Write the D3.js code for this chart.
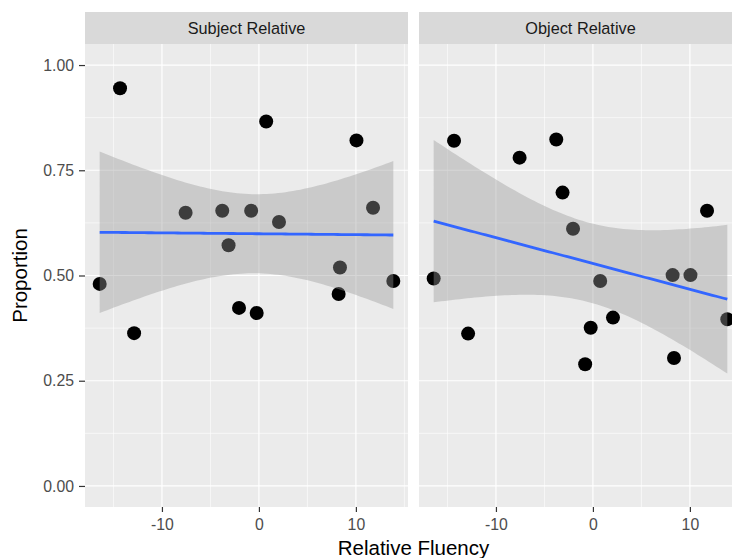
<!DOCTYPE html>
<html>
<head>
<meta charset="utf-8">
<script src="https://cdnjs.cloudflare.com/ajax/libs/d3/7.8.5/d3.min.js"></script>
<style>
  body { margin: 0; background: white; }
  svg text { font-family: "Liberation Sans", Arial, sans-serif; }
</style>
</head>
<body>
<div id="chart"></div>
<script>
// Data
const facets = ["Subject Relative", "Object Relative"];
const fluency = [-16.42, -14.32, -12.87, -7.56, -3.78, -3.13, -2.05, -0.8, -0.23, 0.75, 2.07, 8.22, 8.36, 10.06, 11.77, 13.86];
const subjectProp = [0.480, 0.945, 0.363, 0.649, 0.654, 0.572, 0.423, 0.654, 0.411, 0.866, 0.627, 0.456, 0.519, 0.821, 0.661, 0.487];
const objectProp  = [0.493, 0.820, 0.362, 0.780, 0.823, 0.697, 0.611, 0.289, 0.376, 0.487, 0.400, 0.501, 0.304, 0.501, 0.654, 0.396];
const xTicks = [-10, 0, 10];
const xMinor = [-15, -5, 5, 15];
const yTicks = [0, 0.25, 0.5, 0.75, 1];
const yMinor = [0.125, 0.375, 0.625, 0.875];

const config = {
  width       : 732,
  height      : 558,
  panelTop    : 44,
  panelBottom : 507,
  stripTop    : 12,
  panels      : [[85, 408], [419, 742]],
  panelBg     : "#EBEBEB",
  stripBg     : "#D9D9D9",
  ribbon      : "#999999",
  line        : "#3366FF",
  tickSize    : "15.8px",
  stripSize   : "16.3px",
  titleSize   : "20.5px",
  tCrit       : 2.1448,   // t(0.975, df = 14)
};

const series = [subjectProp, objectProp];

const svg = d3.select("#chart")
  .append("svg")
    .attr("width", config.width)
    .attr("height", config.height);

// shared scales (same limits in both facets, 5% expansion like ggplot)
const xExt = d3.extent(fluency);
const xPad = (xExt[1] - xExt[0]) * 0.05;
const xDomain = [xExt[0] - xPad, xExt[1] + xPad];
const y = d3.scaleLinear()
  .domain([-0.05, 1.05])
  .range([config.panelBottom, config.panelTop]);

// linear model with confidence band
function fitLm(xs, ys) {
  const n = xs.length;
  const mx = d3.mean(xs), my = d3.mean(ys);
  let sxx = 0, sxy = 0;
  xs.forEach((v, i) => { sxx += (v - mx) * (v - mx); sxy += (v - mx) * (ys[i] - my); });
  const b = sxy / sxx, a = my - b * mx;
  let sse = 0;
  xs.forEach((v, i) => { const r = ys[i] - (a + b * v); sse += r * r; });
  const s = Math.sqrt(sse / (n - 2));
  const grid = d3.range(80).map(i => xExt[0] + (xExt[1] - xExt[0]) * i / 79);
  return grid.map(gx => {
    const fit = a + b * gx;
    const se = s * Math.sqrt(1 / n + (gx - mx) * (gx - mx) / sxx);
    return { x: gx, fit: fit, lo: fit - config.tCrit * se, hi: fit + config.tCrit * se };
  });
}

facets.forEach(function(name, k) {
  const [x0, x1] = config.panels[k];
  const x = d3.scaleLinear().domain(xDomain).range([x0, x1]);
  const ys = series[k];
  const g = svg.append("g");

  svg.append("clipPath").attr("id", "clip" + k)
    .append("rect")
      .attr("x", x0).attr("y", config.panelTop)
      .attr("width", x1 - x0).attr("height", config.panelBottom - config.panelTop);

  // strip
  g.append("rect")
    .attr("x", x0).attr("y", config.stripTop)
    .attr("width", x1 - x0).attr("height", config.panelTop - config.stripTop)
    .attr("fill", config.stripBg);
  g.append("text")
    .attr("x", (x0 + x1) / 2)
    .attr("y", (config.stripTop + config.panelTop) / 2)
    .attr("dy", "0.35em")
    .attr("text-anchor", "middle")
    .style("font-size", config.stripSize)
    .attr("fill", "#1A1A1A")
    .text(name);

  // panel bg + grid
  g.append("rect")
    .attr("x", x0).attr("y", config.panelTop)
    .attr("width", x1 - x0).attr("height", config.panelBottom - config.panelTop)
    .attr("fill", config.panelBg);

  const grid = g.append("g").attr("clip-path", "url(#clip" + k + ")");
  grid.selectAll(".xminor").data(xMinor).enter().append("line")
    .attr("x1", d => x(d)).attr("x2", d => x(d))
    .attr("y1", config.panelTop).attr("y2", config.panelBottom)
    .attr("stroke", "white").attr("stroke-width", 0.6);
  grid.selectAll(".yminor").data(yMinor).enter().append("line")
    .attr("x1", x0).attr("x2", x1)
    .attr("y1", d => y(d)).attr("y2", d => y(d))
    .attr("stroke", "white").attr("stroke-width", 0.6);
  grid.selectAll(".xmajor").data(xTicks).enter().append("line")
    .attr("x1", d => x(d)).attr("x2", d => x(d))
    .attr("y1", config.panelTop).attr("y2", config.panelBottom)
    .attr("stroke", "white").attr("stroke-width", 1.2);
  grid.selectAll(".ymajor").data(yTicks).enter().append("line")
    .attr("x1", x0).attr("x2", x1)
    .attr("y1", d => y(d)).attr("y2", d => y(d))
    .attr("stroke", "white").attr("stroke-width", 1.2);

  // points first, then the smooth on top (as geom_point + geom_smooth)
  const pts = fluency.map((f, i) => ({ x: f, y: ys[i] }));
  grid.selectAll("circle").data(pts).enter().append("circle")
    .attr("cx", d => x(d.x))
    .attr("cy", d => y(d.y))
    .attr("r", 7)
    .attr("fill", "black");

  const band = fitLm(fluency, ys);
  grid.append("path")
    .datum(band)
    .attr("d", d3.area().x(d => x(d.x)).y0(d => y(d.lo)).y1(d => y(d.hi)))
    .attr("fill", config.ribbon)
    .attr("fill-opacity", 0.4);
  grid.append("path")
    .datum(band)
    .attr("d", d3.line().x(d => x(d.x)).y(d => y(d.fit)))
    .attr("fill", "none")
    .attr("stroke", config.line)
    .attr("stroke-width", 2.8);

  // x axis (plain hyphen for negatives, as in R)
  const xa = g.append("g").attr("transform", "translate(0," + config.panelBottom + ")")
    .call(d3.axisBottom(x).tickValues(xTicks).tickSize(5).tickPadding(7).tickFormat(d => String(d)));
  xa.select(".domain").remove();
  xa.selectAll("line").attr("stroke", "#333333").attr("stroke-width", 1.2);
  xa.selectAll("text").attr("fill", "#4D4D4D").style("font-size", config.tickSize).attr("font-family", null);
});

// y axis (left panel only)
const ya = svg.append("g").attr("transform", "translate(" + config.panels[0][0] + ",0)")
  .call(d3.axisLeft(y).tickValues(yTicks).tickSize(6).tickPadding(5).tickFormat(d => d.toFixed(2)));
ya.select(".domain").remove();
ya.selectAll("line").attr("stroke", "#333333").attr("stroke-width", 1.2);
ya.selectAll("text").attr("fill", "#4D4D4D").style("font-size", config.tickSize).attr("font-family", null);

// axis titles
svg.append("text")
  .attr("x", (config.panels[0][0] + config.panels[1][1]) / 2)
  .attr("y", 555)
  .attr("text-anchor", "middle")
  .style("font-size", config.titleSize)
  .text("Relative Fluency");

svg.append("text")
  .attr("transform", "translate(27," + (config.panelTop + config.panelBottom) / 2 + ") rotate(-90)")
  .attr("text-anchor", "middle")
  .style("font-size", config.titleSize)
  .text("Proportion");
</script>
</body>
</html>
